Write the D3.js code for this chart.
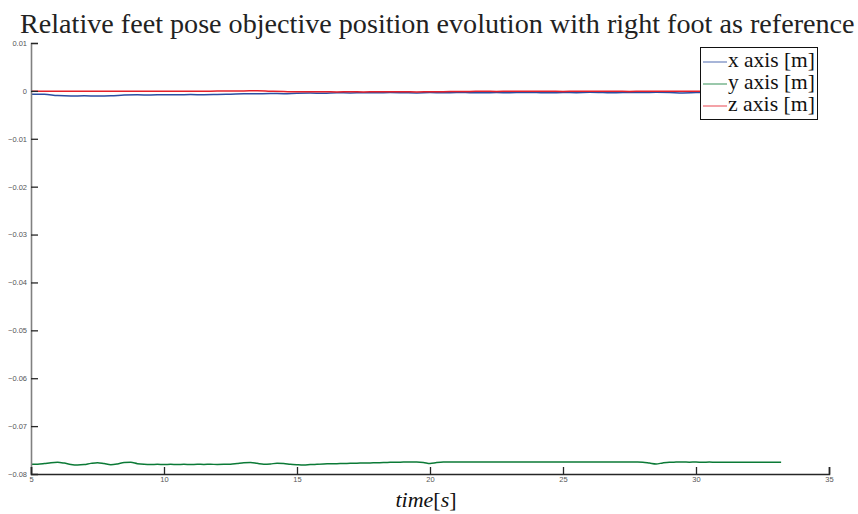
<!DOCTYPE html>
<html>
<head>
<meta charset="utf-8">
<script src="https://cdn.jsdelivr.net/npm/d3@7/dist/d3.min.js"></script>
<style>
  html, body { margin: 0; padding: 0; background: #fff; }
  svg { display: block; }
  .serif2 { font-family: "Liberation Serif", "Times New Roman", Times, serif; }
</style>
</head>
<body>
<svg id="chart" width="858" height="514"></svg>
<script>
// ---------------- DATA ----------------
const titleText = "Relative feet pose objective position evolution with right foot as reference";
const seriesNames = ["x axis [m]", "y axis [m]", "z axis [m]"];
const seriesColors = ["#2b4ea2", "#0b7a36", "#e5202a"];

const xTicks = [5, 10, 15, 20, 25, 30, 35];
const yTicks = [-0.08, -0.07, -0.06, -0.05, -0.04, -0.03, -0.02, -0.01, 0, 0.01];

// sampling grids (s)
const timeFine = d3.range(0, 113).map(i => 5 + i * 0.25).concat([33.2]);
const timeCoarse = d3.range(0, 57).map(i => 5 + i * 0.5).concat([33.2]);

// x axis [m] (blue), on timeCoarse
const xAxisValues = [
  -0.00068, -0.00072, -0.00098, -0.00106, -0.00104, -0.00107, -0.00103, -0.00088, -0.00082, -0.00085,
  -0.00080, -0.00083, -0.00078, -0.00081, -0.00076, -0.00070, -0.00062, -0.00060, -0.00056, -0.00058,
  -0.00050, -0.00046, -0.00048, -0.00040, -0.00042, -0.00037, -0.00040, -0.00035, -0.00038, -0.00042,
  -0.00036, -0.00040, -0.00033, -0.00037, -0.00041, -0.00035, -0.00038, -0.00032, -0.00036, -0.00040,
  -0.00034, -0.00037, -0.00031, -0.00035, -0.00039, -0.00033, -0.00036, -0.00030, -0.00034, -0.00042,
  -0.00036, -0.00032, -0.00035, -0.00033, -0.00036, -0.00034, -0.00035, -0.00034
];

// y axis [m] (green), on timeFine
const yAxisValues = [
  -0.07797, -0.07795, -0.07782, -0.07764, -0.07755, -0.07772, -0.07800, -0.07812, -0.07802, -0.07778,
  -0.07763, -0.07783, -0.07805, -0.07790, -0.07762, -0.07757, -0.07784, -0.07797, -0.07801, -0.07799,
  -0.07802, -0.07798, -0.07801, -0.07799, -0.07803, -0.07798, -0.07800, -0.07797, -0.07801, -0.07799,
  -0.07794, -0.07780, -0.07766, -0.07762, -0.07778, -0.07795, -0.07790, -0.07776, -0.07779, -0.07798,
  -0.07808, -0.07814, -0.07804, -0.07795, -0.07790, -0.07787, -0.07784, -0.07781, -0.07777, -0.07774,
  -0.07771, -0.07768, -0.07765, -0.07761, -0.07757, -0.07754, -0.07752, -0.07750, -0.07751, -0.07758,
  -0.07780, -0.07762, -0.07751, -0.07749, -0.07751, -0.07748, -0.07750, -0.07752, -0.07749, -0.07750,
  -0.07748, -0.07751, -0.07749, -0.07752, -0.07750, -0.07748, -0.07751, -0.07749, -0.07750, -0.07752,
  -0.07749, -0.07751, -0.07748, -0.07750, -0.07752, -0.07749, -0.07751, -0.07748, -0.07750, -0.07752,
  -0.07749, -0.07751, -0.07755, -0.07772, -0.07790, -0.07768, -0.07754, -0.07752, -0.07750, -0.07753,
  -0.07751, -0.07754, -0.07752, -0.07755, -0.07753, -0.07756, -0.07754, -0.07756, -0.07755, -0.07757,
  -0.07754, -0.07756, -0.07755, -0.07756
];

// z axis [m] (red), on timeCoarse
const zAxisValues = [
  -0.00005, -0.00007, -0.00006, -0.00008, -0.00006, -0.00007, -0.00005, -0.00007, -0.00006, -0.00008,
  -0.00006, -0.00005, -0.00007, -0.00006, -0.00004, -0.00003, 0.00000, 0.00002, -0.00008, -0.00015,
  -0.00018, -0.00020, -0.00017, -0.00021, -0.00019, -0.00022, -0.00018, -0.00020, -0.00017, -0.00021,
  -0.00019, -0.00016, -0.00014, -0.00011, -0.00009, -0.00011, -0.00008, -0.00010, -0.00007, -0.00009,
  -0.00011, -0.00008, -0.00010, -0.00007, -0.00009, -0.00011, -0.00008, -0.00010, -0.00007, -0.00009,
  -0.00008, -0.00010, -0.00007, -0.00009, -0.00008, -0.00010, -0.00008, -0.00009
];

// ---------------- CHART ----------------
const svg = d3.select("#chart");
const x = d3.scaleLinear().domain([5, 35]).range([31, 829]);
const y = d3.scaleLinear().domain([-0.08, 0.01]).range([474, 43]);

const series = [
  { name: seriesNames[0], color: seriesColors[0], t: timeCoarse, v: xAxisValues },
  { name: seriesNames[1], color: seriesColors[1], t: timeFine, v: yAxisValues },
  { name: seriesNames[2], color: seriesColors[2], t: timeCoarse, v: zAxisValues }
];

const line = d3.line()
  .x(d => x(d[0]))
  .y(d => y(d[1]))
  .curve(d3.curveMonotoneX);

svg.append("g").selectAll("path")
  .data(series)
  .join("path")
  .attr("fill", "none")
  .attr("stroke", d => d.color)
  .attr("stroke-width", 1.5)
  .attr("d", d => line(d.t.map((t, i) => [t, d.v[i]])));

// axes
const fmt = d => d === 0 ? "0" : d3.format(".2f")(d);
const yAxis = svg.append("g")
  .attr("transform", `translate(${x(5)},0)`)
  .call(d3.axisLeft(y).tickValues(yTicks).tickFormat(fmt).tickSize(-7).tickPadding(4));
yAxis.select(".domain").attr("stroke", "#808080").attr("stroke-width", 1.6);

const xAxis = svg.append("g")
  .attr("transform", `translate(0,${y(-0.08)})`)
  .call(d3.axisBottom(x).tickValues(xTicks).tickFormat(d3.format("d")).tickSize(-7).tickPadding(3));
xAxis.select(".domain").attr("stroke", "#262626").attr("stroke-width", 1.6);

[yAxis, xAxis].forEach(g => {
  g.selectAll(".tick line").attr("stroke", "#262626").attr("stroke-width", 1.3);
  g.selectAll(".tick text")
    .attr("fill", "#555")
    .attr("font-family", "Liberation Sans, Arial, sans-serif")
    .attr("font-size", 7.5);
});

// title
const title = svg.append("text")
  .attr("class", "serif2")
  .attr("x", 20)
  .attr("y", 33)
  .attr("font-size", 24)
  .attr("fill", "#222")
  .text(titleText);
const tw = title.node().getComputedTextLength();
title.attr("font-size", (24 * 835 / tw).toFixed(2));

// x label
const xl = svg.append("text")
  .attr("class", "serif2")
  .attr("x", 426)
  .attr("y", 507)
  .attr("text-anchor", "middle")
  .attr("font-size", 22)
  .attr("fill", "#111");
xl.append("tspan").attr("font-style", "italic").text("time");
xl.append("tspan").text("[");
xl.append("tspan").attr("font-style", "italic").text("s");
xl.append("tspan").text("]");

// legend
const lg = svg.append("g");
lg.append("rect")
  .attr("x", 700.5).attr("y", 47.5)
  .attr("width", 117).attr("height", 72)
  .attr("fill", "#fff").attr("stroke", "#111").attr("stroke-width", 1);
const rowY = [62, 84, 106];
series.forEach((s, i) => {
  lg.append("line")
    .attr("x1", 703).attr("x2", 727)
    .attr("y1", rowY[i]).attr("y2", rowY[i])
    .attr("stroke", s.color).attr("stroke-width", 1.1).attr("opacity", 0.75);
  const t = lg.append("text")
    .attr("class", "serif2")
    .attr("x", 728)
    .attr("y", rowY[i] + 5)
    .attr("font-size", 21)
    .attr("fill", "#111")
    .text(s.name);
  const w = t.node().getComputedTextLength();
  t.attr("font-size", (21 * 87 / w).toFixed(2));
});
</script>
</body>
</html>
